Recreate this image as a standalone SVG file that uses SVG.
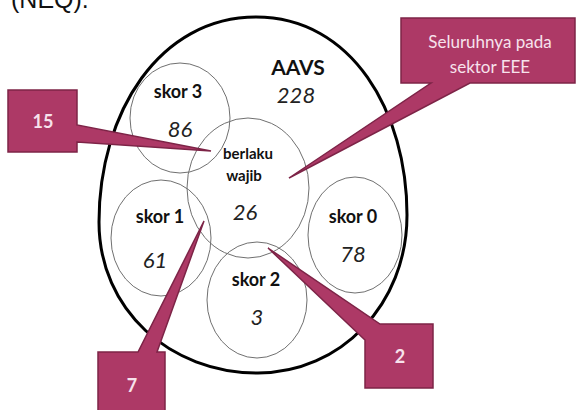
<svg xmlns="http://www.w3.org/2000/svg" width="576" height="410" viewBox="0 0 576 410">
<style>
.lbl{font-family:Lato,"Open Sans","Liberation Sans",sans-serif;font-weight:bold;fill:#111;text-anchor:middle}
.num{font-family:Lato,"Open Sans","Liberation Sans",sans-serif;font-style:italic;fill:#222;text-anchor:middle}
.ring{fill:none;stroke:#707070;stroke-width:1}
.call{fill:#ad3966;stroke:#7d2447;stroke-width:1.5;stroke-linejoin:miter}
.ct{font-family:Lato,"Open Sans","Liberation Sans",sans-serif;fill:#f7e2ec;text-anchor:middle}
</style>
<rect width="576" height="410" fill="#fff"/>
<text x="11" y="8" font-family="Liberation Sans, Arial, sans-serif" font-size="25" fill="#111">(NEQ).</text>
<g id="aavs">
<path d="M256 17 C352 17 407 112 407 215 C407 305 340 373 258 373 C170 373 99 310 99 222 C99 112 160 17 256 17 Z" fill="none" stroke="#000" stroke-width="3"/>
<text class="lbl" x="298" y="75" font-size="21">AAVS</text>
<text class="num" x="296" y="103" font-size="22">228</text>
</g>
<g id="skor3">
<ellipse class="ring" cx="180" cy="118" rx="50" ry="55"/>
<text class="lbl" x="178" y="98" font-size="18">skor 3</text>
<text class="num" x="180" y="137" font-size="22">86</text>
</g>
<g id="skor1">
<ellipse class="ring" cx="161" cy="238" rx="50" ry="58"/>
<text class="lbl" x="160" y="223" font-size="18">skor 1</text>
<text class="num" x="155" y="268" font-size="22">61</text>
</g>
<g id="skor0">
<ellipse class="ring" cx="355" cy="235" rx="47" ry="58"/>
<text class="lbl" x="353" y="223" font-size="18">skor 0</text>
<text class="num" x="353" y="262" font-size="22">78</text>
</g>
<g id="skor2">
<ellipse class="ring" cx="257" cy="300" rx="50" ry="58"/>
<text class="lbl" x="256" y="286" font-size="18">skor 2</text>
<text class="num" x="257" y="325" font-size="22">3</text>
</g>
<g id="wajib">
<ellipse class="ring" cx="248" cy="188" rx="61" ry="70"/>
<text class="lbl" x="248" y="159" font-size="15">berlaku</text>
<text class="lbl" x="244" y="181" font-size="15">wajib</text>
<text class="num" x="245" y="220" font-size="22">26</text>
</g>
<g id="connectors">
<g id="callout-eee">
<path class="call" d="M401 18 H575 V83 H470 L289 178 L431 83 H401 Z"/>
<text class="ct" x="490" y="48" font-size="17">Seluruhnya pada</text>
<text class="ct" x="490" y="73" font-size="17">sektor EEE</text>
</g>
<g id="callout-15">
<path class="call" d="M8 90 H77 V125 L211 151 L77 142 V152 H8 Z"/>
<text class="ct" x="43" y="128" font-size="18" font-weight="bold">15</text>
</g>
<g id="callout-7">
<path class="call" d="M98 352 H138 L204 221 L157 352 H165 V412 H98 Z"/>
<text class="ct" x="132" y="392" font-size="18" font-weight="bold">7</text>
</g>
<g id="callout-2">
<path class="call" d="M380 324 H433 V388 H365 V340 L268 248 Z"/>
<text class="ct" x="400" y="363" font-size="18" font-weight="bold">2</text>
</g>
</g>
</svg>
